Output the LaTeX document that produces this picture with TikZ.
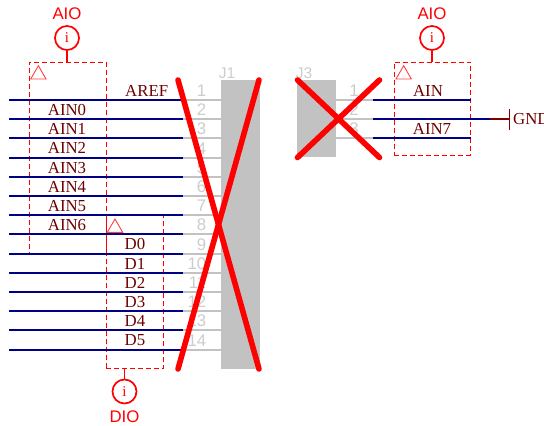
\documentclass[tikz,border=0pt]{standalone}
\usepackage{fontspec}
\setmainfont{Liberation Serif}
\setsansfont{Liberation Sans}
\definecolor{wireblue}{RGB}{0,0,132}
\definecolor{netred}{RGB}{128,0,0}
\definecolor{pingray}{RGB}{194,194,194}
\definecolor{numgray}{RGB}{204,204,204}
\tikzset{
  wire/.style={draw=wireblue,line width=1.95pt},
  pinline/.style={draw=pingray,line width=1.95pt},
  netlabel/.style={text=netred!85!black,font=\fontsize{16.8}{17}\selectfont,inner sep=0pt,anchor=base},
  pinnum/.style={text=numgray,font=\sffamily\fontsize{16.8}{17}\selectfont,inner sep=0pt,anchor=base east},
  refname/.style={text=numgray,font=\sffamily\fontsize{15.5}{16}\selectfont,inner sep=0pt,anchor=base},
  body/.style={fill=pingray,draw=none,inner sep=0pt,anchor=north west},
  crossout/.style={draw=red,line width=5.6pt,line cap=round},
  group/.style={draw=red,dash pattern=on 5pt off 3pt,line width=0.95pt,inner sep=0pt,anchor=north west},
  tri/.style={draw=red!75,line width=0.9pt,line join=miter},
  infocirc/.style={circle,draw=red,line width=1.7pt,minimum size=24pt,inner sep=0pt,text=red,font=\fontsize{15}{15}\selectfont},
  stem/.style={draw=red,line width=1.7pt},
  infolabel/.style={text=red,font=\sffamily\fontsize{16.8}{17}\selectfont,inner sep=0pt,anchor=base}
}
\begin{document}
\begin{tikzpicture}[x=1pt,y=-1pt]
\useasboundingbox (0,0) rectangle (544,426);
% J1 body
\node[body,minimum width=39pt,minimum height=289pt] (J1) at (220.5,80) {};
\node[refname] (J1n) at (227,78) {J1};
% J3 body
\node[body,minimum width=39pt,minimum height=77pt] (J3) at (297,80) {};
\node[refname] (J3n) at (304,78) {J3};
% J1 pins
\foreach \i [evaluate=\i as \yy using {100+19.2*(\i-1)}] in {1,...,14}{
  \coordinate (L\i) at (9,\yy);
  \coordinate (M\i) at (183,\yy);
  \coordinate (B\i) at (220.5,\yy);
  \draw[pinline] (M\i) -- (B\i);
  \node[pinnum] (N\i) at (206.5,\yy-3.6) {\i};
}
% J3 pins
\foreach \i [evaluate=\i as \yy using {100+19.2*(\i-1)}] in {1,2,3}{
  \coordinate (P\i) at (336,\yy);
  \coordinate (Q\i) at (373,\yy);
  \draw[pinline] (P\i) -- (Q\i);
}
\node[pinnum] (R1) at (359,96.4) {1};
\node[pinnum] (R2) at (359,115.6) {2};
\node[pinnum] (R3) at (359,134.8) {3};
% group boxes
\node[group,minimum width=77pt,minimum height=192.1pt] (G1) at (28.5,61.5) {};
\node[group,minimum width=57.5pt,minimum height=153.4pt] (G2) at (105.5,215) {};
\node[group,minimum width=76.5pt,minimum height=93pt] (G3) at (393.5,61.5) {};
% wires J1
\foreach \i in {1,...,14}{\draw[wire] (L\i) -- (M\i);}
% wires J3
\coordinate (E1) at (471,100);
\coordinate (E2) at (490,119.2);
\coordinate (E3) at (471,138.4);
\coordinate (GT) at (509.5,109);
\coordinate (GB) at (509.5,129.5);
\coordinate (GM) at (509.5,119.2);
\draw[wire] (Q1) -- (E1);
\draw[wire] (Q2) -- (E2);
\draw[wire] (Q3) -- (E3);
\draw[draw=netred,line width=1.95pt] (E2) -- (GM);
\draw[draw=netred,line width=1.95pt] (GT) -- (GB);
\node[netlabel,anchor=base west] (GND) at (513,124.5) {GND};
% triangles
\draw[tri] (30.7,79) -- (46,79) -- (38.4,65.7) -- cycle;
\draw[tri] (107.3,232.4) -- (122.7,232.4) -- (115,219) -- cycle;
\draw[tri] (396,79) -- (411.4,79) -- (403.7,65.7) -- cycle;
% labels
\node[netlabel] (AREF) at (146.7,96) {AREF};
\foreach \t [count=\k] in {AIN0,AIN1,AIN2,AIN3,AIN4,AIN5,AIN6}{
  \node[netlabel] (A\k) at (67,115.4+19.2*\k-19.2) {\t};
}
\foreach \t [count=\k] in {D0,D1,D2,D3,D4,D5}{
  \node[netlabel] (D\k) at (135,249.8+19.2*\k-19.2) {\t};
}
\node[netlabel] (AIN) at (428,96) {AIN};
\node[netlabel] (AIN7) at (432,134.4) {AIN7};
% info markers
\node[infocirc] (I1) at (67,38) {i};
\node[infocirc] (I2) at (124.5,391.5) {i};
\node[infocirc] (I3) at (432,38) {i};
\coordinate (S1) at (67,61.5);
\coordinate (S2) at (124.5,368.5);
\coordinate (S3) at (432,61.5);
\draw[stem] (I1) -- (S1);
\draw[stem] (I2) -- (S2);
\draw[stem] (I3) -- (S3);
\node[infolabel] (T1) at (67,19) {AIO};
\node[infolabel] (T2) at (124.5,422) {DIO};
\node[infolabel] (T3) at (432,19) {AIO};
% cross-outs
\coordinate (X1) at (178,80); \coordinate (X2) at (259,80);
\coordinate (X3) at (178,369); \coordinate (X4) at (259,369);
\coordinate (Y1) at (297.5,80); \coordinate (Y2) at (379.5,80);
\coordinate (Y3) at (297.5,157.5); \coordinate (Y4) at (379.5,157.5);
\draw[crossout] (X1) -- (X4);
\draw[crossout] (X2) -- (X3);
\draw[crossout] (Y1) -- (Y4);
\draw[crossout] (Y2) -- (Y3);
\end{tikzpicture}
\end{document}
